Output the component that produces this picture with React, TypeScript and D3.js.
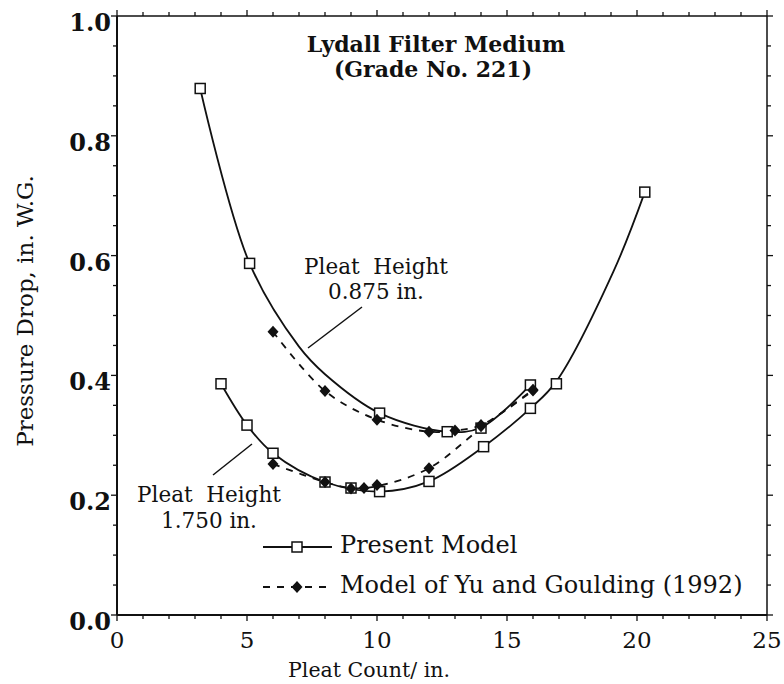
import React from "react";
import * as d3 from "d3";

// Marker data (Pleat count per in., Pressure drop in. W.G.)
const presentUpper: [number, number][] = [
  [3.2, 0.879], [5.1, 0.587], [10.1, 0.337], [12.7, 0.306], [14.0, 0.312], [15.9, 0.384],
];
const presentLower: [number, number][] = [
  [4.0, 0.386], [5.0, 0.317], [6.0, 0.27], [8.0, 0.222], [9.0, 0.212], [10.1, 0.206],
  [12.0, 0.223], [14.1, 0.281], [15.9, 0.345], [16.9, 0.386], [20.3, 0.706],
];
const yuUpper: [number, number][] = [
  [6.0, 0.473], [8.0, 0.374], [10.0, 0.326], [12.0, 0.306], [13.0, 0.308], [14.0, 0.317], [16.0, 0.375],
];
const yuLower: [number, number][] = [
  [6.0, 0.252], [8.0, 0.222], [9.0, 0.211], [9.5, 0.212], [10.0, 0.217], [12.0, 0.245], [14.0, 0.315], [16.0, 0.376],
];

// Curves
const upperSolidCurve: [number, number][] = [
  [3.2, 0.879], [5.1, 0.587], [7.0, 0.448], [8.0, 0.402], [10.1, 0.337],
  [12.7, 0.306], [14.0, 0.313], [15.9, 0.384],
];
const lowerSolidCurve: [number, number][] = [
  [4.0, 0.386], [5.0, 0.317], [6.0, 0.27], [8.0, 0.222], [10.1, 0.206],
  [12.0, 0.223], [14.1, 0.281], [15.9, 0.345], [16.9, 0.39], [19.1, 0.574], [20.3, 0.706],
];
const upperDashCurve: [number, number][] = [
  [6.0, 0.473], [8.0, 0.374], [10.0, 0.326], [12.0, 0.306],
  [13.0, 0.308], [14.0, 0.317], [16.0, 0.375],
];
const lowerDashCurve: [number, number][] = [
  [6.0, 0.252], [8.0, 0.222], [9.0, 0.212], [10.0, 0.215], [12.0, 0.245],
  [14.0, 0.312], [16.0, 0.376],
];

const xTickLabels = [0, 5, 10, 15, 20, 25];
const yTickLabels = [0, 0.2, 0.4, 0.6, 0.8, 1.0];

const titleLines = ["Lydall Filter Medium", "(Grade No. 221)"];
const xAxisTitle = "Pleat Count/ in.";
const yAxisTitle = "Pressure Drop, in. W.G.";
const legendLabels = ["Present Model", "Model of Yu and Goulding (1992)"];
const annotUpper = ["Pleat  Height", "0.875 in."];
const annotLower = ["Pleat  Height", "1.750 in."];

const FONT = "'DejaVu Serif', 'Liberation Serif', serif";

export default function App() {
  const W = 784, H = 684;
  const x = d3.scaleLinear().domain([0, 25]).range([117, 767]);
  const y = d3.scaleLinear().domain([0, 1]).range([615, 16]);
  const line = d3
    .line<[number, number]>()
    .x((d) => x(d[0]))
    .y((d) => y(d[1]))
    .curve(d3.curveCatmullRom.alpha(0.5));

  const xMinor = d3.range(0, 25.001, 1);
  const yMinor = d3.range(0, 1.0001, 0.05);

  const square = (cx: number, cy: number, key: string) => (
    <rect key={key} x={cx - 5} y={cy - 5} width={10} height={10} fill="white" stroke="#111" strokeWidth={1.5} />
  );
  const diamond = (cx: number, cy: number, key: string) => (
    <path key={key} d={`M${cx},${cy - 6}L${cx + 5.5},${cy}L${cx},${cy + 6}L${cx - 5.5},${cy}Z`} fill="#111" />
  );

  const [x0, x1] = x.range();
  const [y0, y1] = y.range();

  return (
    <svg width={W} height={H} style={{ position: "absolute", left: 0, top: 0, background: "white" }} fontFamily={FONT}>
      <rect width={W} height={H} fill="white" />
      {/* frame */}
      <line x1={x0} x2={x1} y1={y0} y2={y0} stroke="#111" strokeWidth={2} />
      <line x1={x0} x2={x0} y1={y0} y2={y1} stroke="#111" strokeWidth={2} />
      <line x1={x0} x2={x1} y1={y1} y2={y1} stroke="#111" strokeWidth={1.5} />
      <line x1={x1} x2={x1} y1={y0} y2={y1} stroke="#111" strokeWidth={1.5} />
      {/* ticks */}
      {xMinor.map((v, i) => {
        const major = Math.abs(v % 5) < 1e-6;
        const L = major ? 6 : 4;
        return (
          <g key={"xt" + i}>
            <line x1={x(v)} x2={x(v)} y1={y0} y2={y0 + L} stroke="#111" strokeWidth={1.3} />
            <line x1={x(v)} x2={x(v)} y1={y1} y2={y1 - L} stroke="#111" strokeWidth={1.3} />
          </g>
        );
      })}
      {yMinor.map((v, i) => {
        const major = Math.abs(v * 5 - Math.round(v * 5)) < 1e-6;
        const L = major ? 6 : 4;
        return (
          <g key={"yt" + i}>
            <line x1={x0} x2={x0 - L} y1={y(v)} y2={y(v)} stroke="#111" strokeWidth={1.3} />
            <line x1={x1} x2={x1 + L} y1={y(v)} y2={y(v)} stroke="#111" strokeWidth={1.3} />
          </g>
        );
      })}
      {xTickLabels.map((v) => (
        <text key={"xl" + v} x={x(v)} y={y0 + 33} textAnchor="middle" fontSize={23} fill="#111">
          {v}
        </text>
      ))}
      {yTickLabels.map((v) => (
        <text key={"yl" + v} x={x0 - 6} y={y(v) + 15} textAnchor="end" fontSize={24} fontWeight="bold" fill="#111">
          {v.toFixed(1)}
        </text>
      ))}
      <text x={369} y={677} textAnchor="middle" fontSize={20.5} fill="#111">
        {xAxisTitle}
      </text>
      <text transform="translate(33,311) rotate(-90)" textAnchor="middle" fontSize={23} fill="#111">
        {yAxisTitle}
      </text>
      {/* title */}
      <text x={436} y={52} textAnchor="middle" fontSize={22} fontWeight="bold" fill="#111">
        {titleLines[0]}
      </text>
      <text x={433} y={77} textAnchor="middle" fontSize={22} fontWeight="bold" fill="#111">
        {titleLines[1]}
      </text>
      {/* curves */}
      <path d={line(upperSolidCurve) || ""} fill="none" stroke="#111" strokeWidth={1.8} />
      <path d={line(lowerSolidCurve) || ""} fill="none" stroke="#111" strokeWidth={1.8} />
      <path d={line(upperDashCurve) || ""} fill="none" stroke="#111" strokeWidth={1.8} strokeDasharray="7,7" />
      <path d={line(lowerDashCurve) || ""} fill="none" stroke="#111" strokeWidth={1.8} strokeDasharray="7,7" />
      {presentUpper.map((d, i) => square(x(d[0]), y(d[1]), "pu" + i))}
      {presentLower.map((d, i) => square(x(d[0]), y(d[1]), "pl" + i))}
      {yuUpper.map((d, i) => diamond(x(d[0]), y(d[1]), "yu" + i))}
      {yuLower.map((d, i) => diamond(x(d[0]), y(d[1]), "yl" + i))}
      {/* annotations */}
      <text x={376} y={274} textAnchor="middle" fontSize={21.5} fill="#111" xmlSpace="preserve">{annotUpper[0]}</text>
      <text x={376} y={299} textAnchor="middle" fontSize={21.5} fill="#111">{annotUpper[1]}</text>
      <line x1={362} y1={307} x2={308} y2={348} stroke="#111" strokeWidth={1.5} />
      <text x={209} y={502} textAnchor="middle" fontSize={21.5} fill="#111" xmlSpace="preserve">{annotLower[0]}</text>
      <text x={209} y={528} textAnchor="middle" fontSize={21.5} fill="#111">{annotLower[1]}</text>
      <line x1={252} y1={444} x2={213} y2={475} stroke="#111" strokeWidth={1.5} />
      {/* legend */}
      <line x1={263} x2={332} y1={547} y2={547} stroke="#111" strokeWidth={1.8} />
      {square(297, 547, "lg1")}
      <text x={340} y={553} fontSize={24} fill="#111" xmlSpace="preserve">{legendLabels[0]}</text>
      <line x1={263} x2={332} y1={587} y2={587} stroke="#111" strokeWidth={1.8} strokeDasharray="7,7" />
      {diamond(297, 587, "lg2")}
      <text x={340} y={593} fontSize={24} fill="#111">{legendLabels[1]}</text>
    </svg>
  );
}
